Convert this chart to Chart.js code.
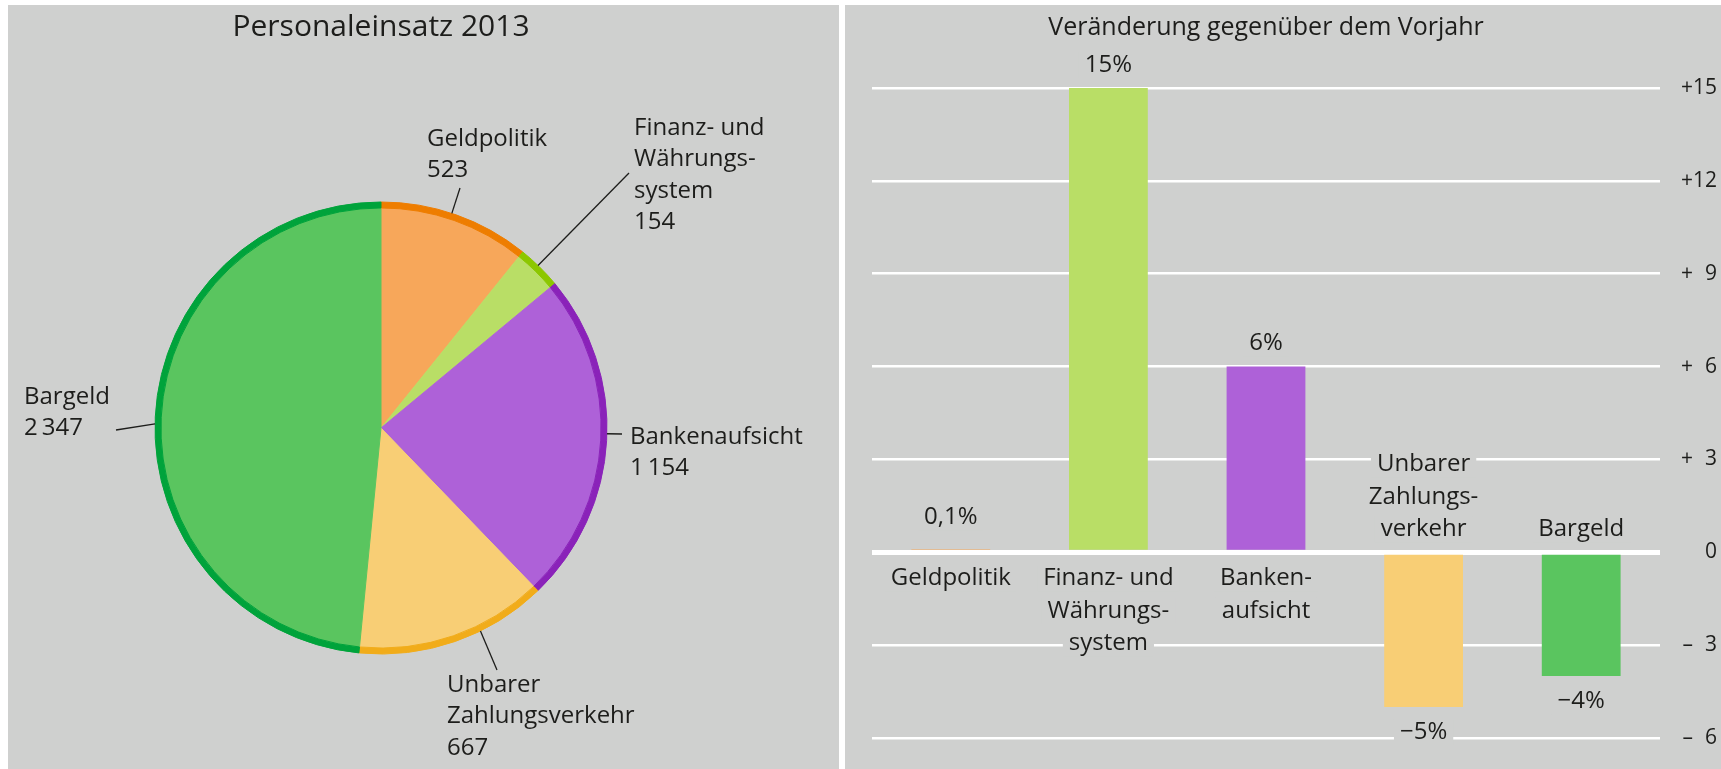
<!DOCTYPE html>
<html>
<head>
<meta charset="utf-8">
<script src="https://cdn.jsdelivr.net/npm/chart.js@4"></script>
<style>
    body { margin: 0; background: #ffffff; width: 1721px; height: 769px; overflow: hidden; position: relative; font-family: "Open Sans", sans-serif; }
    .panel { position: absolute; background: #cfd0cf; }
    #pane-left { left: 8px; top: 5px; width: 831px; height: 764px; }
    #pane-right { left: 845px; top: 5px; width: 876px; height: 764px; }
    canvas { display: block; }
</style>
</head>
<body>
<div class="panel" id="pane-left"><canvas id="chartPie" width="831" height="764"></canvas></div>
<div class="panel" id="pane-right"><canvas id="chartBar" width="876" height="764"></canvas></div>
<script>
// Personaleinsatz 2013 (staff by business area)
var pieLabels = [['Geldpolitik'], ['Finanz- und', 'Währungs-', 'system'], ['Bankenaufsicht'], ['Unbarer', 'Zahlungsverkehr'], ['Bargeld']];
var staff2013 = [523, 154, 1154, 667, 2347];

// Veränderung gegenüber dem Vorjahr, in %
var barLabels = [['Geldpolitik'], ['Finanz- und', 'Währungs-', 'system'], ['Banken-', 'aufsicht'], ['Unbarer', 'Zahlungs-', 'verkehr'], ['Bargeld']];
var changePct = [0.1, 15, 6, -5, -4];

var yTicks = [-6, -3, 0, 3, 6, 9, 12, 15];
var yTickLabels = ['\u2013\u20076', '\u2013\u20073', '0', '+\u20073', '+\u20076', '+\u20079', '+12', '+15'];

var fillColors = ['#f7a75a', '#b9de66', '#ae61d8', '#f8ce75', '#5ac55f'];
var edgeColors = ['#ee7d00', '#8cc700', '#8a22b9', '#f1ac1a', '#00a33b'];

var textColor = '#1d1d1b';
var panelGray = '#cfd0cf';
var FONT = '"Open Sans", sans-serif';

// where the pie labels sit (layout only)
var pieLabelPos = [
    { x: 419, y: 134, lx: 452, ly: 183, at: 0.47 },
    { x: 626, y: 123, lx: 621, ly: 168, at: 0.45 },
    { x: 622, y: 432, lx: 614, ly: 429, at: 0.48 },
    { x: 439, y: 680, lx: 489, ly: 665, at: 0.36 },
    { x: 16, y: 392, lx: 108, ly: 425, at: 0.49 }
];

function fmtThousands(n) {
    return String(n).replace(/\B(?=(\d{3})+(?!\d))/g, '\u2009');
}

function fmtPct(v) {
    var s = Math.abs(v).toLocaleString('de-DE') + '%';
    return v < 0 ? '\u2212' + s : s;
}

var pieLabelPlugin = {
    id: 'pieLabels',
    afterDraw: function (chart) {
        var ctx = chart.ctx;
        var arcs = chart.getDatasetMeta(0).data;
        var lh = 31.5;
        ctx.save();
        ctx.textAlign = 'left';
        ctx.textBaseline = 'middle';
        ctx.fillStyle = textColor;
        ctx.strokeStyle = textColor;
        ctx.lineWidth = 1.3;
        pieLabelPos.forEach(function (p, i) {
            var arc = arcs[i];
            var a = arc.startAngle + (arc.endAngle - arc.startAngle) * p.at;
            var r = arc.outerRadius;
            ctx.beginPath();
            ctx.moveTo(arc.x + Math.cos(a) * r, arc.y + Math.sin(a) * r);
            ctx.lineTo(p.lx, p.ly);
            ctx.stroke();

            var lines = pieLabels[i];
            ctx.font = '500 24px ' + FONT;
            lines.forEach(function (t, k) {
                ctx.fillText(t, p.x, p.y + k * lh);
            });
            ctx.font = '400 24px ' + FONT;
            ctx.fillText(fmtThousands(staff2013[i]), p.x, p.y + lines.length * lh);
        });
        ctx.restore();
    }
};

function knockText(ctx, text, x, y) {
    var w = ctx.measureText(text).width;
    ctx.fillStyle = panelGray;
    ctx.fillRect(x - w / 2 - 6, y - 13, w + 12, 26);
    ctx.fillStyle = textColor;
    ctx.fillText(text, x, y);
}

var barLabelPlugin = {
    id: 'barLabels',
    afterDatasetsDraw: function (chart) {
        var ctx = chart.ctx;
        var x = chart.scales.x;
        var y = chart.scales.y;
        var zero = y.getPixelForValue(0);
        var bars = chart.getDatasetMeta(0).data;
        var lh = 32.5;
        ctx.save();
        ctx.textAlign = 'center';
        ctx.textBaseline = 'middle';
        ctx.font = '500 24px ' + FONT;
        changePct.forEach(function (v, i) {
            var cx = x.getPixelForValue(i);
            var top = bars[i].y;
            knockText(ctx, fmtPct(v), cx, v >= 0 ? Math.min(top - 23, zero - 35) : top + 25);

            var lines = barLabels[i];
            lines.forEach(function (t, k) {
                var ly = v >= 0 ? zero + 26 + k * lh : zero - 23 - (lines.length - 1 - k) * lh;
                knockText(ctx, t, cx, ly);
            });
        });
        ctx.restore();
    }
};

var pieChart = () => {
    var ctx = document.getElementById('chartPie').getContext('2d');
    new Chart(ctx, {
        type: 'pie',
        data: {
            labels: pieLabels.map(l => l.join(' ')),
            datasets: [{
                data: staff2013,
                backgroundColor: edgeColors,
                borderColor: edgeColors,
                borderWidth: 1,
                weight: 1
            }, {
                data: staff2013,
                backgroundColor: fillColors,
                borderColor: fillColors,
                borderWidth: 1,
                weight: 37
            }]
        },
        options: {
            responsive: false,
            animation: false,
            devicePixelRatio: 1,
            radius: 226,
            hoverOffset: 0,
            layout: {
                padding: { left: 147, right: 232, top: 4, bottom: 115 }
            },
            plugins: {
                legend: { display: false },
                tooltip: { enabled: false },
                title: {
                    display: true,
                    text: 'Personaleinsatz 2013',
                    color: textColor,
                    fullSize: false,
                    font: { family: FONT, size: 30, weight: '500', lineHeight: 1.2 },
                    padding: { top: 0, bottom: 157 }
                }
            }
        },
        plugins: [pieLabelPlugin]
    });
};

var barChart = () => {
    var ctx = document.getElementById('chartBar').getContext('2d');
    new Chart(ctx, {
        type: 'bar',
        data: {
            labels: barLabels.map(l => l.join(' ')),
            datasets: [{
                data: changePct,
                backgroundColor: fillColors,
                borderWidth: 0,
                categoryPercentage: 1,
                barPercentage: 0.5
            }]
        },
        options: {
            responsive: false,
            animation: false,
            devicePixelRatio: 1,
            layout: {
                padding: { left: 27, right: 4, top: 8, bottom: 31 }
            },
            scales: {
                x: { display: false },
                y: {
                    position: 'right',
                    min: -6,
                    max: 15,
                    afterBuildTicks: function (scale) {
                        scale.ticks = yTicks.map(v => ({ value: v }));
                    },
                    afterFit: function (scale) {
                        scale.width = 57;
                    },
                    border: { display: false },
                    grid: {
                        color: '#ffffff',
                        lineWidth: c => (c.tick && c.tick.value === 0 ? 5 : 2.5),
                        drawTicks: false
                    },
                    ticks: {
                        color: textColor,
                        crossAlign: 'far',
                        padding: 10,
                        font: { family: FONT, size: 21, weight: '400' },
                        callback: function (v) {
                            return yTickLabels[yTicks.indexOf(v)];
                        }
                    }
                }
            },
            plugins: {
                legend: { display: false },
                tooltip: { enabled: false },
                title: {
                    display: true,
                    text: 'Veränderung gegenüber dem Vorjahr',
                    color: textColor,
                    fullSize: false,
                    font: { family: FONT, size: 25, weight: '500', lineHeight: 1.2 },
                    padding: { top: 0, bottom: 45 }
                }
            }
        },
        plugins: [barLabelPlugin]
    });
};

pieChart();
barChart();
</script>
</body>
</html>
